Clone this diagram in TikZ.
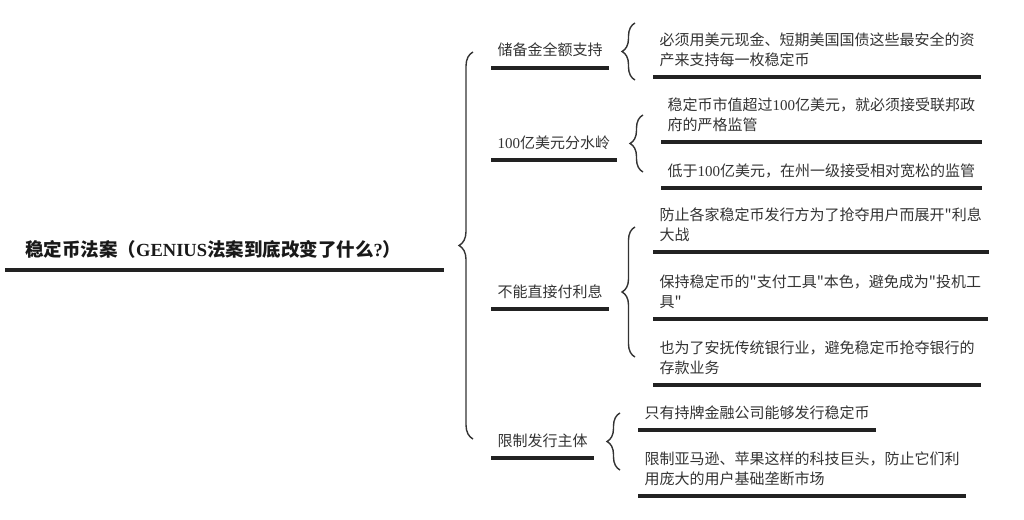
\documentclass[tikz,border=0pt]{standalone}
\usepackage{fontspec}
\setmainfont{Noto Sans CJK SC}[Ligatures=TeXOff]
\newfontfamily\lat{Liberation Serif}
\usetikzlibrary{decorations.pathreplacing}

\definecolor{texte}{HTML}{333333}
\definecolor{trait}{HTML}{222222}

\tikzset{
  racine/.style={anchor=south west, inner xsep=0pt, inner ysep=13pt, text depth=0pt,
    text=black!90, font=\fontsize{18.5}{22}\selectfont\bfseries},
  branche/.style={anchor=south west, inner xsep=6.5pt, inner ysep=11.8pt, text depth=0pt,
    text=texte, align=left, font=\fontsize{15}{19.5}\selectfont},
  souligne/.style={draw=trait, line width=4.5pt},
  accolade/.style={draw=texte, line width=1.4pt, decorate, decoration={brace, amplitude=#1}},
  accolade/.default=13
}

\begin{document}
\begin{tikzpicture}[x=1pt,y=-1pt]
  \useasboundingbox (0,0) rectangle (1024,519);

  % racine
  \node[racine] (racine) at (25,270) {稳定币法案（{\lat GENIUS}法案到底改变了什么{\lat ?}）};
  \draw[souligne] ([xshift=-20pt]racine.south west) -- ([xshift=42pt]racine.south east);

  % branches
  \node[branche] (reserve)  at (491,68)  {储备金全额支持};
  \node[branche] (seuil)    at (491,160) {{\lat 100}亿美元分水岭};
  \node[branche] (interet)  at (491,309) {不能直接付利息};
  \node[branche] (emetteur) at (491,458) {限制发行主体};

  % feuilles
  \node[branche] (f11) at (653,77)  {必须用美元现金、短期美国国债这些最安全的资\\产来支持每一枚稳定币};
  \node[branche] (f21) at (661,142) {稳定币市值超过{\lat 100}亿美元，就必须接受联邦政\\府的严格监管};
  \node[branche] (f22) at (661,188) {低于{\lat 100}亿美元，在州一级接受相对宽松的监管};
  \node[branche] (f31) at (653,252) {防止各家稳定币发行方为了抢夺用户而展开"利息\\大战};
  \node[branche] (f32) at (653,319) {保持稳定币的"支付工具"本色，避免成为"投机工\\具"};
  \node[branche] (f33) at (653,385) {也为了安抚传统银行业，避免稳定币抢夺银行的\\存款业务};
  \node[branche] (f41) at (638,430) {只有持牌金融公司能够发行稳定币};
  \node[branche] (f42) at (638,496) {限制亚马逊、苹果这样的科技巨头，防止它们利\\用庞大的用户基础垄断市场};

  % soulignements
  \foreach \n in {reserve,seuil,interet,emetteur,f11,f21,f22,f31,f32,f33,f41,f42}{
    \draw[souligne] (\n.south west) -- (\n.south east);
  }

  % accolades
  \foreach \x/\ya/\yb/\a in {473/439/52/14, 635/80/23/13, 643/172/115/13,
                             635/357/227/13, 620/470/413/13}{
    \draw[accolade=\a] (\x,\ya) -- (\x,\yb);
  }
\end{tikzpicture}
\end{document}
